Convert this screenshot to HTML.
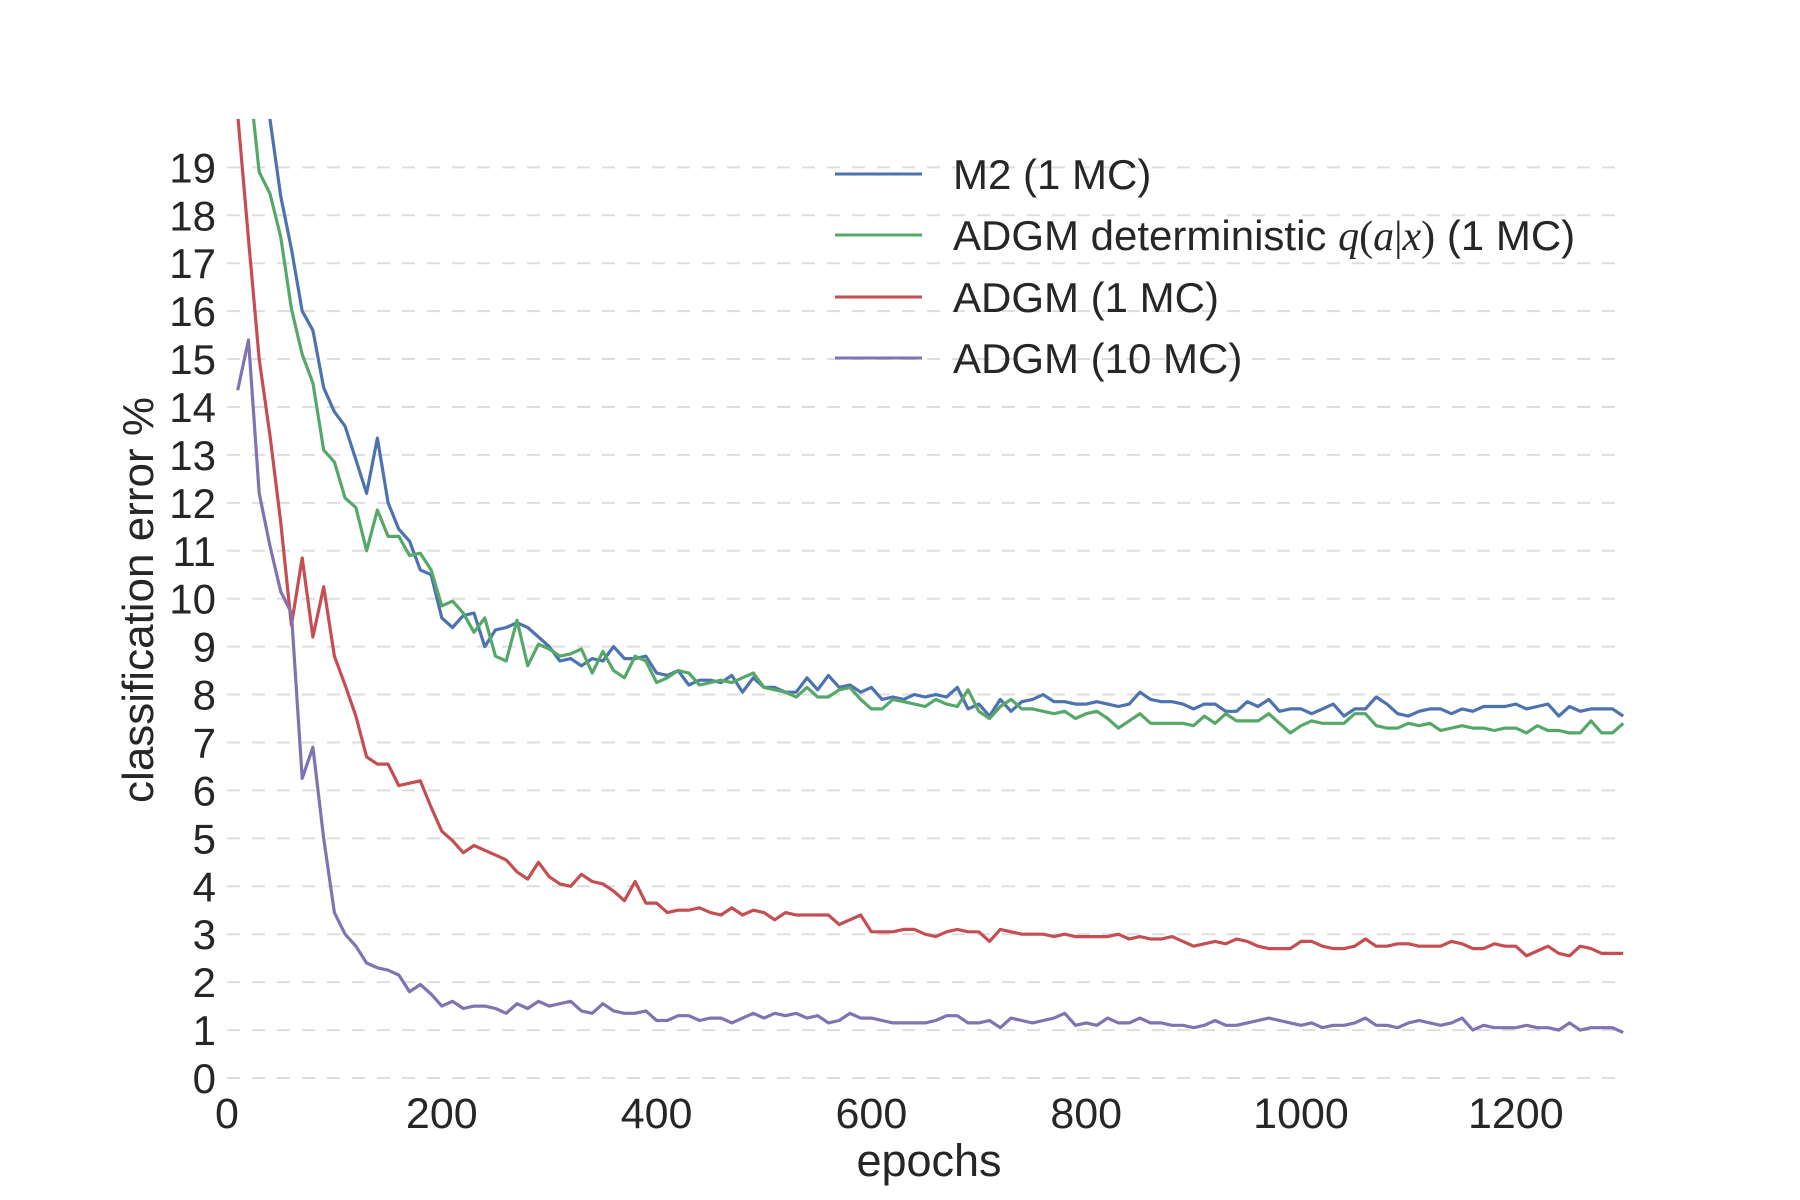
<!DOCTYPE html>
<html><head><meta charset="utf-8">
<style>
html,body{margin:0;padding:0;background:#fff;}
svg{display:block;font-family:"Liberation Sans",Arial,sans-serif;}
</style></head>
<body>
<svg id="chart" width="1800" height="1200" viewBox="0 0 1800 1200" xmlns="http://www.w3.org/2000/svg">
<defs><clipPath id="plotclip"><rect x="220" y="119" width="1420" height="980"/></clipPath></defs>
<g id="grid"></g>
<g id="yticks"></g>
<g id="xticks"></g>
<g id="series" clip-path="url(#plotclip)"></g>
<text x="929" y="1176" font-size="45" fill="#262626" text-anchor="middle">epochs</text>
<text transform="translate(153,600) rotate(-90)" font-size="44" fill="#262626" text-anchor="middle">classification error %</text>
<g font-size="42" fill="#262626">
  <g><line x1="835" y1="174" x2="922" y2="174" stroke="#4c72b0" stroke-width="3"/><text x="953" y="189">M2 (1 MC)</text></g>
  <g><line x1="835" y1="235" x2="922" y2="235" stroke="#55a868" stroke-width="3"/><text x="953" y="250">ADGM deterministic <tspan font-family="'Liberation Serif',serif" font-style="italic">q</tspan><tspan font-family="'Liberation Serif',serif">(</tspan><tspan font-family="'Liberation Serif',serif" font-style="italic">a</tspan><tspan font-family="'Liberation Serif',serif">|</tspan><tspan font-family="'Liberation Serif',serif" font-style="italic">x</tspan><tspan font-family="'Liberation Serif',serif">)</tspan> (1 MC)</text></g>
  <g><line x1="835" y1="297" x2="922" y2="297" stroke="#c44e52" stroke-width="3"/><text x="953" y="312">ADGM (1 MC)</text></g>
  <g><line x1="835" y1="358" x2="922" y2="358" stroke="#8172b2" stroke-width="3"/><text x="953" y="373">ADGM (10 MC)</text></g>
</g>
</svg>
<script>
const yTicks=[0,1,2,3,4,5,6,7,8,9,10,11,12,13,14,15,16,17,18,19];
const xTicks=[0,200,400,600,800,1000,1200];
const epochStep=10;
const m2=[28,24,21,20,18.4,17.3,16.0,15.6,14.4,13.9,13.6,12.9,12.2,13.35,12.0,11.45,11.2,10.6,10.5,9.6,9.4,9.65,9.7,9.0,9.35,9.4,9.5,9.4,9.2,9.0,8.7,8.75,8.6,8.75,8.7,9.0,8.75,8.75,8.8,8.45,8.4,8.5,8.2,8.3,8.3,8.25,8.4,8.05,8.35,8.15,8.15,8.05,8.05,8.35,8.1,8.4,8.15,8.2,8.05,8.15,7.9,7.95,7.9,8.0,7.95,8.0,7.95,8.15,7.7,7.8,7.55,7.9,7.65,7.85,7.9,8.0,7.85,7.85,7.8,7.8,7.85,7.8,7.75,7.8,8.05,7.9,7.85,7.85,7.8,7.7,7.8,7.8,7.65,7.65,7.85,7.75,7.9,7.65,7.7,7.7,7.6,7.7,7.8,7.55,7.7,7.7,7.95,7.8,7.6,7.55,7.65,7.7,7.7,7.6,7.7,7.65,7.75,7.75,7.75,7.8,7.7,7.75,7.8,7.55,7.75,7.65,7.7,7.7,7.7,7.55];
const adgmDet=[25,21,18.9,18.45,17.55,16.05,15.1,14.5,13.1,12.85,12.1,11.9,11.0,11.85,11.3,11.3,10.9,10.95,10.6,9.85,9.95,9.7,9.3,9.6,8.8,8.7,9.55,8.6,9.05,8.95,8.8,8.85,8.95,8.45,8.9,8.5,8.35,8.8,8.7,8.25,8.35,8.5,8.45,8.2,8.25,8.3,8.25,8.35,8.45,8.15,8.1,8.05,7.95,8.15,7.95,7.95,8.1,8.15,7.9,7.7,7.7,7.9,7.85,7.8,7.75,7.9,7.8,7.75,8.1,7.65,7.5,7.75,7.9,7.7,7.7,7.65,7.6,7.65,7.5,7.6,7.65,7.5,7.3,7.45,7.6,7.4,7.4,7.4,7.4,7.35,7.55,7.4,7.6,7.45,7.45,7.45,7.6,7.4,7.2,7.35,7.45,7.4,7.4,7.4,7.6,7.6,7.35,7.3,7.3,7.4,7.35,7.4,7.25,7.3,7.35,7.3,7.3,7.25,7.3,7.3,7.2,7.35,7.25,7.25,7.2,7.2,7.45,7.2,7.2,7.4];
const adgm1=[20.1,17.5,15.0,13.4,11.6,9.45,10.85,9.2,10.25,8.8,8.2,7.55,6.7,6.55,6.55,6.1,6.15,6.2,5.65,5.15,4.95,4.7,4.85,4.75,4.65,4.55,4.3,4.15,4.5,4.2,4.05,4.0,4.25,4.1,4.05,3.9,3.7,4.1,3.65,3.65,3.45,3.5,3.5,3.55,3.45,3.4,3.55,3.4,3.5,3.45,3.3,3.45,3.4,3.4,3.4,3.4,3.2,3.3,3.4,3.05,3.05,3.05,3.1,3.1,3.0,2.95,3.05,3.1,3.05,3.05,2.85,3.1,3.05,3.0,3.0,3.0,2.95,3.0,2.95,2.95,2.95,2.95,3.0,2.9,2.95,2.9,2.9,2.95,2.85,2.75,2.8,2.85,2.8,2.9,2.85,2.75,2.7,2.7,2.7,2.85,2.85,2.75,2.7,2.7,2.75,2.9,2.75,2.75,2.8,2.8,2.75,2.75,2.75,2.85,2.8,2.7,2.7,2.8,2.75,2.75,2.55,2.65,2.75,2.6,2.55,2.75,2.7,2.6,2.6,2.6];
const adgm10=[14.35,15.4,12.2,11.1,10.15,9.7,6.25,6.9,5.0,3.45,3.0,2.75,2.4,2.3,2.25,2.15,1.8,1.95,1.75,1.5,1.6,1.45,1.5,1.5,1.45,1.35,1.55,1.45,1.6,1.5,1.55,1.6,1.4,1.35,1.55,1.4,1.35,1.35,1.4,1.2,1.2,1.3,1.3,1.2,1.25,1.25,1.15,1.25,1.35,1.25,1.35,1.3,1.35,1.25,1.3,1.15,1.2,1.35,1.25,1.25,1.2,1.15,1.15,1.15,1.15,1.2,1.3,1.3,1.15,1.15,1.2,1.05,1.25,1.2,1.15,1.2,1.25,1.35,1.1,1.15,1.1,1.25,1.15,1.15,1.25,1.15,1.15,1.1,1.1,1.05,1.1,1.2,1.1,1.1,1.15,1.2,1.25,1.2,1.15,1.1,1.15,1.05,1.1,1.1,1.15,1.25,1.1,1.1,1.05,1.15,1.2,1.15,1.1,1.15,1.25,1.0,1.1,1.05,1.05,1.05,1.1,1.05,1.05,1.0,1.15,1.0,1.05,1.05,1.05,0.95];
const NS='http://www.w3.org/2000/svg';
const X0=227,PXE=1.074,Y0=1078,PYU=47.93;
function xs(e){return X0+e*PXE;}
function ys(v){return Y0-v*PYU;}
const grid=document.getElementById('grid'),yt=document.getElementById('yticks'),xt=document.getElementById('xticks'),ser=document.getElementById('series');
yTicks.forEach(v=>{
  const l=document.createElementNS(NS,'line');
  
  
  l.setAttribute('x1',X0);l.setAttribute('x2',xs(1300));
  l.setAttribute('y1',ys(v));l.setAttribute('y2',ys(v));
  l.setAttribute('stroke','#dddddd');l.setAttribute('stroke-width','2');l.setAttribute('stroke-dasharray','13 12');
  grid.appendChild(l);
  const t=document.createElementNS(NS,'text');
  
  
  t.setAttribute('x',216);t.setAttribute('y',ys(v)+15);
  t.setAttribute('text-anchor','end');t.setAttribute('font-size','42');t.setAttribute('fill','#262626');
  t.textContent=v;yt.appendChild(t);
});
xTicks.forEach(e=>{
  const t=document.createElementNS(NS,'text');
  
  
  t.setAttribute('x',xs(e));t.setAttribute('y',1128);
  t.setAttribute('text-anchor','middle');t.setAttribute('font-size','43');t.setAttribute('fill','#262626');
  t.textContent=e;xt.appendChild(t);
});
function drawLine(arr,color,name){
  const p=document.createElementNS(NS,'polyline');
  
  
  p.setAttribute('points',arr.map((v,i)=>xs((i+1)*epochStep).toFixed(1)+','+ys(v).toFixed(1)).join(' '));
  p.setAttribute('fill','none');p.setAttribute('stroke',color);p.setAttribute('stroke-width','3.2');p.setAttribute('stroke-linejoin','round');
  ser.appendChild(p);
}
drawLine(m2,'#4c72b0','line-m2');
drawLine(adgmDet,'#55a868','line-adgm-deterministic');
drawLine(adgm1,'#c44e52','line-adgm-1mc');
drawLine(adgm10,'#8172b2','line-adgm-10mc');
</script>
</body></html>
